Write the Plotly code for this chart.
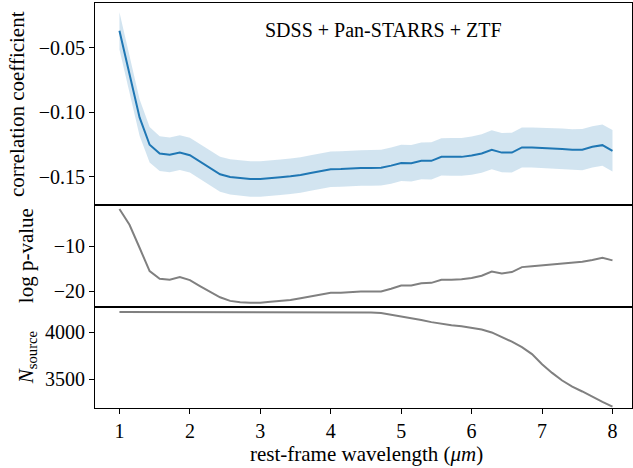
import numpy as np
import plotly.graph_objects as go

wavelength = np.linspace(1, 8, 50)

corr = [-0.0367, -0.0697, -0.1040, -0.1252, -0.1320, -0.1330, -0.1313, -0.1333, -0.1384, -0.1434,
        -0.1481, -0.1502, -0.1512, -0.1518, -0.1518, -0.1513, -0.1505, -0.1497, -0.1487, -0.1471,
        -0.1455, -0.1442, -0.1440, -0.1435, -0.1432, -0.1432, -0.1430, -0.1414, -0.1393, -0.1395,
        -0.1377, -0.1377, -0.1346, -0.1346, -0.1346, -0.1336, -0.1320, -0.1291, -0.1313, -0.1313,
        -0.1273, -0.1273, -0.1276, -0.1278, -0.1284, -0.1290, -0.1290, -0.1268, -0.1255, -0.1299]

corr_err = [0.0145, 0.0145, 0.0142, 0.0138, 0.0135, 0.0135, 0.0135, 0.0135, 0.0135, 0.0135,
            0.0136, 0.0137, 0.0137, 0.0138, 0.0138, 0.0138, 0.0138, 0.0138, 0.0138, 0.0138,
            0.0138, 0.0138, 0.0138, 0.0138, 0.0138, 0.0139, 0.0139, 0.0140, 0.0141, 0.0142,
            0.0143, 0.0144, 0.0145, 0.0146, 0.0147, 0.0148, 0.0150, 0.0152, 0.0153, 0.0154,
            0.0155, 0.0156, 0.0157, 0.0158, 0.0158, 0.0159, 0.0160, 0.0160, 0.0160, 0.0161]

log_p = [-1.7, -5.2, -10.3, -15.5, -17.2, -17.4, -16.8, -17.5, -18.8, -20.1,
         -21.3, -22.1, -22.4, -22.5, -22.5, -22.3, -22.1, -21.9, -21.5, -21.1,
         -20.7, -20.3, -20.3, -20.1, -20.0, -20.0, -20.0, -19.4, -18.7, -18.7,
         -18.2, -18.1, -17.4, -17.4, -17.3, -17.0, -16.5, -15.6, -16.0, -15.7,
         -14.6, -14.4, -14.2, -14.0, -13.8, -13.6, -13.4, -13.0, -12.5, -13.1]

n_source = [4215, 4215, 4215, 4215, 4215, 4215, 4215, 4215, 4215, 4215,
            4215, 4215, 4215, 4215, 4215, 4215, 4215, 4215, 4215, 4215,
            4215, 4215, 4215, 4214, 4213, 4211, 4205, 4188, 4170, 4152,
            4130, 4108, 4090, 4075, 4064, 4050, 4029, 3998, 3950, 3900,
            3841, 3767, 3659, 3567, 3486, 3420, 3369, 3310, 3259, 3208]

corr_ticks = [-0.15, -0.10, -0.05]
corr_ticktext = ["\u22120.15", "\u22120.10", "\u22120.05"]
logp_ticks = [-20, -10]
logp_ticktext = ["\u221220", "\u221210"]
n_ticks = [3500, 4000]
n_ticktext = ["3500", "4000"]
x_ticks = [1, 2, 3, 4, 5, 6, 7, 8]

FONT = "'Liberation Serif', 'Times New Roman', 'DejaVu Serif', serif"
FS = 20
FS_LABEL = 21
BLUE = "#1f77b4"
GRAY = "#808080"

upper = [c + e for c, e in zip(corr, corr_err)]
lower = [c - e for c, e in zip(corr, corr_err)]

fig = go.Figure()
fig.add_trace(go.Scatter(x=wavelength, y=upper, mode="lines", line=dict(width=0, color=BLUE),
                         hoverinfo="skip", showlegend=False, xaxis="x", yaxis="y"))
fig.add_trace(go.Scatter(x=wavelength, y=lower, mode="lines", line=dict(width=0, color=BLUE),
                         fill="tonexty", fillcolor="rgba(31,119,180,0.2)",
                         hoverinfo="skip", showlegend=False, xaxis="x", yaxis="y"))
fig.add_trace(go.Scatter(x=wavelength, y=corr, mode="lines", line=dict(width=2, color=BLUE),
                         showlegend=False, xaxis="x", yaxis="y"))
fig.add_trace(go.Scatter(x=wavelength, y=log_p, mode="lines", line=dict(width=2, color=GRAY),
                         showlegend=False, xaxis="x2", yaxis="y2"))
fig.add_trace(go.Scatter(x=wavelength, y=n_source, mode="lines", line=dict(width=2, color=GRAY),
                         showlegend=False, xaxis="x3", yaxis="y3"))

H_TOTAL = 404.7
d1 = 101.2 / H_TOTAL
d2 = (101.2 + 101.5) / H_TOTAL

xr = [0.653, 8.277]
common_x = dict(range=xr, showgrid=False, zeroline=False, showline=True, linecolor="black",
                linewidth=1, mirror=True, tickvals=x_ticks)
common_y = dict(showgrid=False, zeroline=False, showline=True, linecolor="black", linewidth=1,
                mirror=True, ticks="outside", ticklen=5, tickwidth=1, tickcolor="black",
                tickfont=dict(family=FONT, size=FS, color="black"))

fig.update_layout(
    width=633, height=468,
    margin=dict(l=95, r=1, t=3, b=60),
    paper_bgcolor="white", plot_bgcolor="white",
    font=dict(family=FONT, size=FS, color="black"),
    xaxis=dict(**common_x, anchor="y", domain=[0, 1], showticklabels=False, ticks="",
               matches="x3"),
    xaxis2=dict(**common_x, anchor="y2", domain=[0, 1], showticklabels=False, ticks="",
                matches="x3"),
    xaxis3=dict(**common_x, anchor="y3", domain=[0, 1], ticks="outside", ticklen=5,
                tickwidth=1, tickcolor="black",
                tickfont=dict(family=FONT, size=FS, color="black")),
    yaxis=dict(**common_y, domain=[d2, 1], anchor="x", range=[-0.1721, -0.0151],
               tickvals=corr_ticks, ticktext=corr_ticktext),
    yaxis2=dict(**common_y, domain=[d1, d2], anchor="x2", range=[-23.4, -0.83],
                tickvals=logp_ticks, ticktext=logp_ticktext),
    yaxis3=dict(**common_y, domain=[0, d1], anchor="x3", range=[3193, 4272],
                tickvals=n_ticks, ticktext=n_ticktext),
)

ann_font = dict(family=FONT, size=FS, color="black")
lab_font = dict(family=FONT, size=FS_LABEL, color="black")
annotations = [
    dict(text="SDSS + Pan-STARRS + ZTF", x=(383 - 95) / 537, y=(407.7 - 30) / H_TOTAL,
         xref="paper", yref="paper", showarrow=False, font=ann_font,
         xanchor="center", yanchor="middle"),
    dict(text="correlation coefficient", x=(17 - 95) / 537, y=(407.7 - 104) / H_TOTAL,
         xref="paper", yref="paper", showarrow=False, font=lab_font, textangle=-90,
         xanchor="center", yanchor="middle"),
    dict(text="log p-value", x=(26 - 95) / 537, y=(407.7 - 256) / H_TOTAL,
         xref="paper", yref="paper", showarrow=False, font=lab_font, textangle=-90,
         xanchor="center", yanchor="middle"),
    dict(text="<i>N</i><sub>source</sub>", x=(27 - 95) / 537, y=(407.7 - 357) / H_TOTAL,
         xref="paper", yref="paper", showarrow=False, font=lab_font, textangle=-90,
         xanchor="center", yanchor="middle"),
    dict(text="rest-frame wavelength (<i>μm</i>)", x=(366 - 95) / 537, y=(407.7 - 454) / H_TOTAL,
         xref="paper", yref="paper", showarrow=False, font=lab_font,
         xanchor="center", yanchor="middle"),
]
fig.update_layout(annotations=annotations)

fig.write_html("out.html")
